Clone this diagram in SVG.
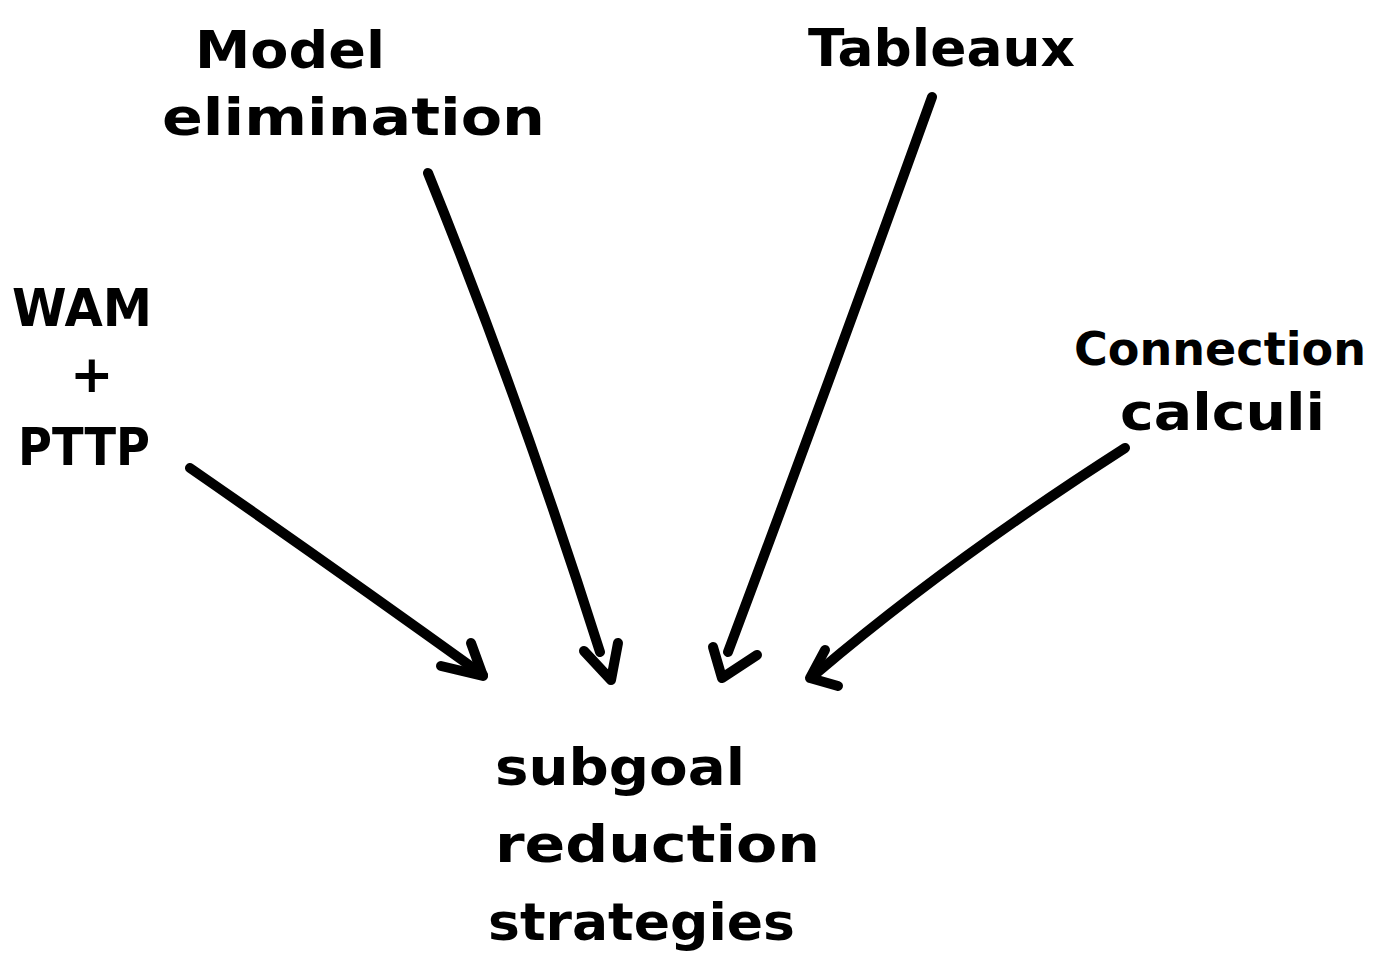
<svg xmlns="http://www.w3.org/2000/svg" width="1388" height="963" viewBox="0 0 1388 963">
<style>
.t{font-family:"DejaVu Sans","Liberation Sans",sans-serif;font-weight:bold;font-size:52px;fill:#000;}
.s{font-size:46px;}
.c{fill:none;stroke:#000;stroke-width:10;stroke-linecap:round;stroke-linejoin:round;}
</style>
<rect width="1388" height="963" fill="#fff"/>
<g id="model-elimination">
<text class="t" x="195" y="68" textLength="190" lengthAdjust="spacingAndGlyphs">Model</text>
<text class="t" x="162" y="135" textLength="383" lengthAdjust="spacingAndGlyphs">elimination</text>
</g>
<g id="tableaux">
<text class="t" x="808" y="66" textLength="267" lengthAdjust="spacingAndGlyphs">Tableaux</text>
</g>
<g id="wam-pttp">
<text class="t" x="12" y="326" textLength="140" lengthAdjust="spacingAndGlyphs">WAM</text>
<text class="t" x="70" y="392">+</text>
<text class="t" x="18" y="465" textLength="132" lengthAdjust="spacingAndGlyphs">PTTP</text>
</g>
<g id="connection-calculi">
<text class="t s" x="1074" y="365" textLength="292" lengthAdjust="spacingAndGlyphs">Connection</text>
<text class="t" x="1120" y="430" textLength="205" lengthAdjust="spacingAndGlyphs">calculi</text>
</g>
<g id="subgoal-reduction-strategies">
<text class="t" x="495" y="785" textLength="250" lengthAdjust="spacingAndGlyphs">subgoal</text>
<text class="t" x="495" y="862" textLength="325" lengthAdjust="spacingAndGlyphs">reduction</text>
<text class="t" x="488" y="940" textLength="307" lengthAdjust="spacingAndGlyphs">strategies</text>
</g>
<g id="connectors">
<path class="c" d="M190,468 Q330,565 483,675"/>
<path class="c" d="M441,666 L483,676 L471,643"/>
<path class="c" d="M428,173 Q520,400 600,652"/>
<path class="c" d="M584,651 L611,680 L618,643"/>
<path class="c" d="M932,97 Q830,380 728,652"/>
<path class="c" d="M713,647 L722,678 L757,655"/>
<path class="c" d="M1125,448 Q950,560 818,672"/>
<path class="c" d="M825,650 L810,678 L838,686"/>
</g>
</svg>
